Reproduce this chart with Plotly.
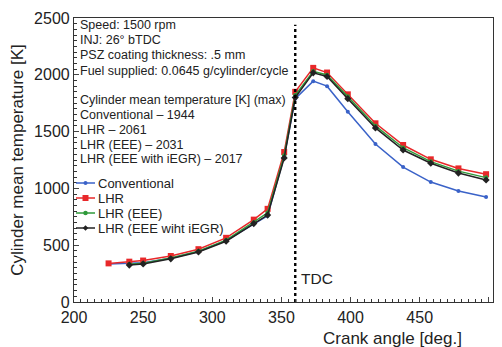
import plotly.graph_objects as go

# Data
conv_x = [225, 240, 250, 270, 290, 310, 330, 340, 352, 360, 373, 383, 398, 418, 438, 458, 478, 498]
conv_y = [335, 338, 345, 385, 445, 540, 690, 760, 1280, 1790, 1944, 1900, 1675, 1391, 1188, 1056, 977, 924]

lhr_x = [225, 240, 250, 270, 290, 310, 330, 340, 352, 360, 373, 383, 398, 418, 438, 458, 478, 498]
lhr_y = [340, 355, 365, 405, 465, 565, 725, 820, 1320, 1850, 2061, 2020, 1828, 1573, 1382, 1256, 1176, 1125]

eee_x = [240, 250, 270, 290, 310, 330, 340, 352, 360, 373, 383, 398, 418, 438, 458, 478, 498]
eee_y = [332, 342, 388, 448, 545, 700, 785, 1290, 1820, 2031, 1998, 1808, 1550, 1358, 1236, 1152, 1095]

egr_x = [240, 250, 270, 290, 310, 330, 340, 352, 360, 373, 383, 398, 418, 438, 458, 478, 498]
egr_y = [325, 335, 380, 440, 535, 690, 765, 1268, 1800, 2017, 1985, 1790, 1532, 1338, 1221, 1135, 1074]

series_names = ["Conventional", "LHR", "LHR (EEE)", "LHR (EEE wiht iEGR)"]
series_colors = ["#3a62c8", "#e8282a", "#2f9a3a", "#222222"]
marker_sizes = [4, 6, 4.5, 5.5]
marker_symbols = ["circle", "square", "circle", "diamond"]

info_lines = [
    "Speed: 1500 rpm",
    "INJ: 26° bTDC",
    "PSZ coating thickness: .5 mm",
    "Fuel supplied: 0.0645 g/cylinder/cycle",
    "Cylinder mean temperature [K] (max)",
    "Conventional – 1944",
    "LHR – 2061",
    "LHR (EEE) – 2031",
    "LHR (EEE with iEGR) – 2017",
]

tdc_x = 360
x_ticks = [200, 250, 300, 350, 400, 450, 500]
y_ticks = [0, 500, 1000, 1500, 2000, 2500]

FONT = "Liberation Sans, Arial, sans-serif"
W, H = 502, 347
ML, MR, MT, MB = 74, 9, 18, 45
PW, PH = W - ML - MR, H - MT - MB


def px_x(px):
    return (px - ML) / PW


def px_y(py):
    return (H - MB - py) / PH


fig = go.Figure()
data = [(conv_x, conv_y), (lhr_x, lhr_y), (eee_x, eee_y), (egr_x, egr_y)]
for (xs, ys), name, col, ms, sym in zip(data, series_names, series_colors, marker_sizes, marker_symbols):
    fig.add_trace(go.Scatter(
        x=xs, y=ys, name=name, mode="lines+markers",
        line=dict(color=col, width=1.5),
        marker=dict(color=col, size=ms, symbol=sym),
        showlegend=False,
    ))

# TDC line
fig.add_trace(go.Scatter(
    x=[tdc_x, tdc_x], y=[0, 2440], mode="lines", showlegend=False,
    line=dict(color="black", width=2.4, dash="dot"), hoverinfo="skip",
))

annotations = []
info_py = [25, 40, 55, 70.5, 100, 115, 130, 145, 159.5]
for t, py in zip(info_lines, info_py):
    annotations.append(dict(
        x=px_x(78), xref="paper", y=px_y(py), yref="paper",
        text=t, showarrow=False, xanchor="left", yanchor="middle",
        font=dict(family=FONT, size=12.5, color="#222"),
    ))
annotations.append(dict(
    x=tdc_x + 2.5, y=210, text="TDC", showarrow=False, xanchor="left", yanchor="middle",
    font=dict(family=FONT, size=15.5, color="#222"),
))
annotations.append(dict(
    x=px_x(392), xref="paper", y=px_y(338), yref="paper", text="Crank angle [deg.]", showarrow=False,
    xanchor="center", yanchor="middle", font=dict(family=FONT, size=17, color="#222"),
))

# Manual compact legend
shapes = []
leg_py = [183, 198, 213, 228]
for name, col, ms, sym, py in zip(series_names, series_colors, marker_sizes, marker_symbols, leg_py):
    shapes.append(dict(type="line", xref="paper", yref="paper",
                       x0=px_x(76), x1=px_x(95), y0=px_y(py), y1=px_y(py),
                       line=dict(color=col, width=1.5)))
    r = ms / 2
    cx = 85.5
    if sym == "square":
        shapes.append(dict(type="rect", xref="paper", yref="paper",
                           x0=px_x(cx - r), x1=px_x(cx + r), y0=px_y(py + r), y1=px_y(py - r),
                           fillcolor=col, line=dict(width=0)))
    elif sym == "diamond":
        path = "M {} {} L {} {} L {} {} L {} {} Z".format(
            px_x(cx - r), px_y(py), px_x(cx), px_y(py - r), px_x(cx + r), px_y(py), px_x(cx), px_y(py + r))
        shapes.append(dict(type="path", xref="paper", yref="paper", path=path,
                           fillcolor=col, line=dict(width=0)))
    else:
        shapes.append(dict(type="circle", xref="paper", yref="paper",
                           x0=px_x(cx - r), x1=px_x(cx + r), y0=px_y(py + r), y1=px_y(py - r),
                           fillcolor=col, line=dict(width=0)))
    annotations.append(dict(
        x=px_x(96), xref="paper", y=px_y(py), yref="paper", text=name, showarrow=False,
        xanchor="left", yanchor="middle", font=dict(family=FONT, size=13, color="#222"),
    ))

fig.update_layout(
    width=W, height=H,
    margin=dict(l=ML, r=MR, t=MT, b=MB),
    paper_bgcolor="white", plot_bgcolor="white",
    font=dict(family=FONT, color="#222"),
    showlegend=False,
    annotations=annotations,
    shapes=shapes,
    xaxis=dict(
        range=[200, 503], tickvals=x_ticks, ticks="inside", ticklen=5,
        showgrid=False, zeroline=False, showline=True, linecolor="#333", linewidth=1.2,
        mirror=True, tickfont=dict(size=16, family=FONT, color="#222"),
        ticklabelstandoff=1,
        minor=dict(dtick=5, ticks="inside", ticklen=3, tickcolor="#333"),
    ),
    yaxis=dict(
        range=[0, 2500], tickvals=y_ticks, ticks="inside", ticklen=5,
        showgrid=False, zeroline=False, showline=True, linecolor="#333", linewidth=1.2,
        mirror=True, tickfont=dict(size=16, family=FONT, color="#222"),
        title=dict(text="Cylinder mean temperature [K]", font=dict(size=17, family=FONT, color="#222"), standoff=6),
        minor=dict(dtick=50, ticks="inside", ticklen=3, tickcolor="#333"),
    ),
)

fig.write_html("out.html")
